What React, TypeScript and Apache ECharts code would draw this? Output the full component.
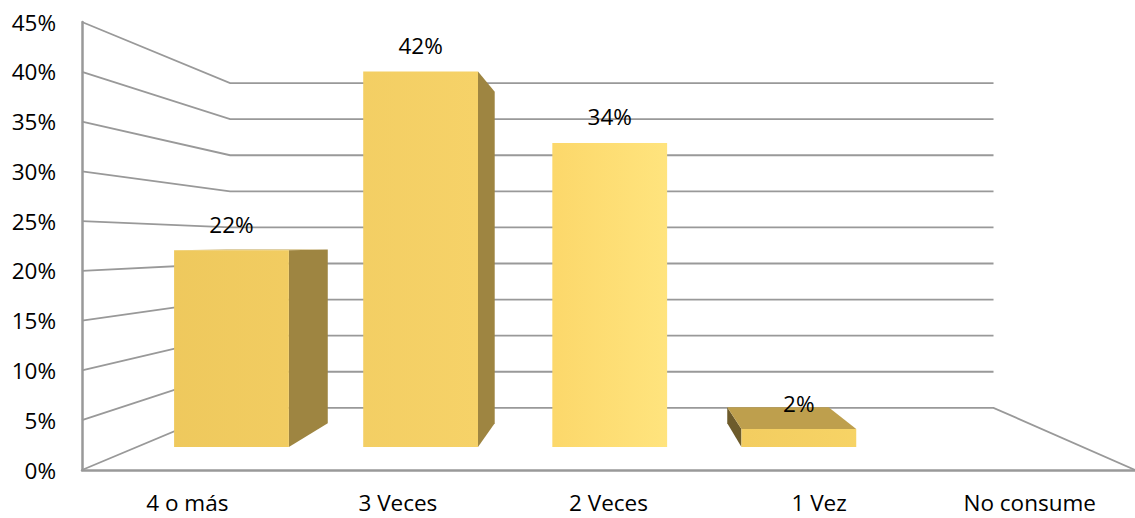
import React, { useEffect, useRef } from "react";
import * as echarts from "echarts";

const categories = ["4 o más", "3 Veces", "2 Veces", "1 Vez", "No consume"];
const percentages = [22, 42, 34, 2, 0];
const yTicks = [0, 5, 10, 15, 20, 25, 30, 35, 40, 45];

// perspective layout (pixels / scale factors)
const VP = [620.5, 244];
const WALL_BACK = 0.725;
const BAR_FRONT = 0.898;
const BAR_BACK = 0.7927;
const BAR_WIDTH_RATIO = 0.607;
const FONT = "Open Sans";
const FONT_SIZE = 22.5;
const LINE = "#999999";

const proj = (x: number, y: number, s: number) => [VP[0] + (x - VP[0]) * s, VP[1] + (y - VP[1]) * s];

export default function App() {
  const ref = useRef<HTMLDivElement>(null);
  useEffect(() => {
    if (!ref.current) return;
    const chart = echarts.init(ref.current, null, { renderer: "svg" });
    const frontGrad = new echarts.graphic.LinearGradient(150, 0, 870, 0, [
      { offset: 0, color: "#EEC85C" },
      { offset: 0.458, color: "#F6D268" },
      { offset: 0.5625, color: "#FCD86B" },
      { offset: 0.722, color: "#FFE47E" },
      { offset: 0.826, color: "#F3CD60" },
      { offset: 1, color: "#F7D466" },
    ], true);
    chart.setOption({
      animation: false,
      grid: { left: 82, top: 22, width: 1055, height: 448, containLabel: false },
      xAxis: {
        type: "category",
        data: categories,
        axisLine: { show: true, lineStyle: { color: LINE, width: 2.5 } },
        axisTick: { show: false },
        axisLabel: { margin: 21, color: "#000", fontSize: FONT_SIZE, fontFamily: FONT, interval: 0 },
        splitLine: { show: false },
      },
      yAxis: {
        type: "value",
        min: 0,
        max: 45,
        interval: 5,
        axisLine: { show: true, lineStyle: { color: LINE, width: 2.5 } },
        axisTick: { show: false },
        splitLine: { show: false },
        axisLabel: { formatter: "{value}%", margin: 26, color: "#000", fontSize: FONT_SIZE, fontFamily: FONT },
      },
      series: [
        {
          type: "custom",
          data: yTicks.map((v) => [0, v]),
          encode: { x: 0, y: 1 },
          silent: true,
          renderItem: (params: any, api: any) => {
            const v = api.value(1);
            const cs = params.coordSys;
            const y = api.coord([0, v])[1];
            const xl = cs.x;
            const xr = cs.x + cs.width;
            const pts: number[][] = [[xl, y], proj(xl, y, WALL_BACK), proj(xr, y, WALL_BACK)];
            if (v === 0) pts.push([xr, y]);
            return {
              type: "polyline",
              shape: { points: pts },
              style: { stroke: LINE, lineWidth: 1.8, fill: "none" },
            };
          },
          z: 1,
        },
        {
          type: "custom",
          data: percentages.map((v, i) => [i, v]),
          encode: { x: 0, y: 1 },
          renderItem: (params: any, api: any) => {
            const c = api.value(0);
            const v = api.value(1);
            if (!v) return { type: "group", children: [] };
            const base = api.coord([c, 0]);
            const top = api.coord([c, v]);
            const bw = api.size([1, 0])[0] * BAR_WIDTH_RATIO;
            const xl = base[0] - bw / 2;
            const xr = base[0] + bw / 2;
            const fLT = proj(xl, top[1], BAR_FRONT), fRT = proj(xr, top[1], BAR_FRONT);
            const fRB = proj(xr, base[1], BAR_FRONT), fLB = proj(xl, base[1], BAR_FRONT);
            const bLT = proj(xl, top[1], BAR_BACK), bRT = proj(xr, top[1], BAR_BACK);
            const bRB = proj(xr, base[1], BAR_BACK), bLB = proj(xl, base[1], BAR_BACK);
            const children: any[] = [];
            if (fRT[0] < VP[0]) {
              children.push({ type: "polygon", shape: { points: [fRT, bRT, bRB, fRB] }, style: { fill: "#9E8541" } });
            }
            if (fLT[0] > VP[0]) {
              children.push({ type: "polygon", shape: { points: [fLT, bLT, bLB, fLB] }, style: { fill: "#6D5B2B" } });
            }
            if (fLT[1] > VP[1]) {
              children.push({ type: "polygon", shape: { points: [fLT, fRT, bRT, bLT] }, style: { fill: "#BE9F4D" } });
            }
            children.push({ type: "polygon", shape: { points: [fLT, fRT, fRB, fLB] }, style: { fill: frontGrad } });
            children.push({
              type: "text",
              x: (fLT[0] + fRT[0]) / 2,
              y: fLT[1] - 26,
              style: {
                text: `${v}%`,
                fill: "#000",
                fontSize: FONT_SIZE,
                fontFamily: FONT,
                align: "center",
                verticalAlign: "middle",
              },
            });
            return { type: "group", children };
          },
          z: 2,
        },
      ],
    });
    return () => chart.dispose();
  }, []);
  return <div ref={ref} style={{ position: "absolute", left: 0, top: 0, width: 1135, height: 518 }} />;
}
